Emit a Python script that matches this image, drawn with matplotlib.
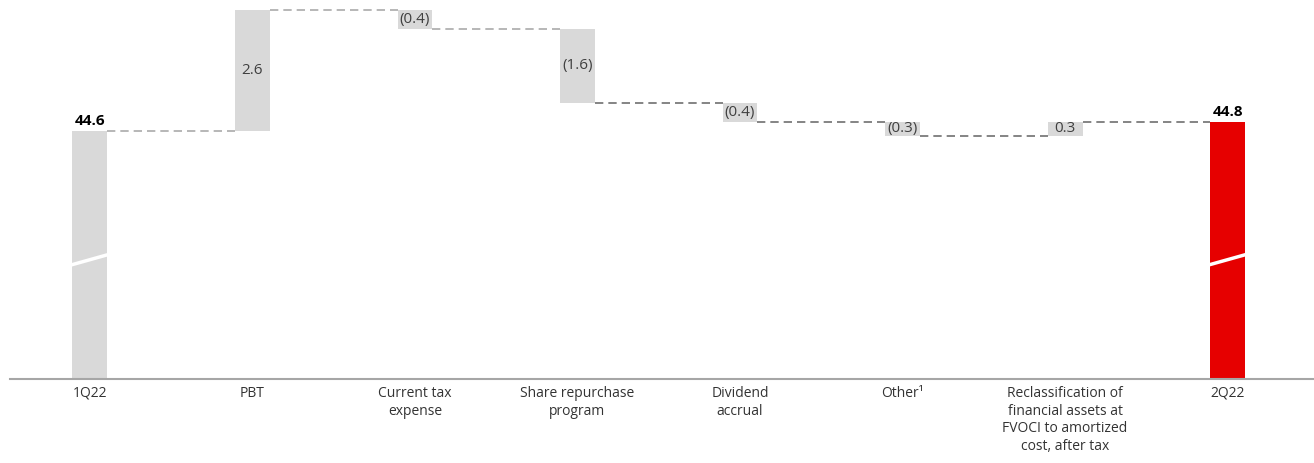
import numpy as np
import matplotlib
matplotlib.use("Agg")
import matplotlib.pyplot as plt

plt.rcParams['font.family'] = ['Open Sans', 'DejaVu Sans']

categories = ["1Q22", "PBT", "Current tax\nexpense", "Share repurchase\nprogram",
              "Dividend\naccrual", "Other\u00b9",
              "Reclassification of\nfinancial assets at\nFVOCI to amortized\ncost, after tax",
              "2Q22"]
start_value = 44.6
deltas = [2.6, -0.4, -1.6, -0.4, -0.3, 0.3]
end_value = 44.8
delta_labels = ["2.6", "(0.4)", "(1.6)", "(0.4)", "(0.3)", "0.3"]

y_min, y_max = 39.271, 47.415
bar_w = 0.215
grey = "#d9d9d9"
red = "#e60000"

fig = plt.figure(figsize=(13.14, 4.63), dpi=100)
ax = fig.add_axes([10 / 1314, (463 - 379) / 463, 1304 / 1314, 379 / 463])
ax.set_xlim(-0.492, 7.532)
ax.set_ylim(y_min, y_max)

x = np.arange(len(categories))

# start / end totals
ax.bar(x[0], start_value - y_min, bottom=y_min, width=bar_w, color=grey, zorder=2)
ax.bar(x[-1], end_value - y_min, bottom=y_min, width=bar_w, color=red, zorder=2)
ax.text(x[0], start_value + 0.06, "44.6", ha="center", va="bottom", fontsize=11,
        fontweight="bold", color="black")
ax.text(x[-1], end_value + 0.06, "44.8", ha="center", va="bottom", fontsize=11,
        fontweight="bold", color="black")

# axis break marks
for xi in (x[0], x[-1]):
    ax.plot([xi - bar_w / 2 - 0.01, xi + bar_w / 2 + 0.01], [41.72, 41.95],
            color="white", lw=2.5, zorder=3, solid_capstyle="butt")

# steps
level = start_value
levels = [level]
for i, d in enumerate(deltas):
    lo, hi = sorted([level, level + d])
    ax.bar(x[i + 1], hi - lo, bottom=lo, width=bar_w, color=grey, zorder=2)
    ax.text(x[i + 1], (lo + hi) / 2, delta_labels[i], ha="center", va="center",
            fontsize=11, color="#404040", zorder=4)
    level += d
    levels.append(level)

# connectors
for i in range(len(categories) - 1):
    lvl = levels[i]
    col = "#aaaaaa" if i < 3 else "#707070"
    ax.plot([x[i] + bar_w / 2, x[i + 1] - bar_w / 2], [lvl, lvl], color=col,
            lw=1.2, dashes=(5, 3), zorder=1)

ax.set_xticks(x)
ax.set_xticklabels(categories, fontsize=10, color="#333333", linespacing=1.25)
ax.tick_params(axis="x", length=0, pad=5)
ax.set_yticks([])
for s in ["top", "right", "left"]:
    ax.spines[s].set_visible(False)
ax.spines["bottom"].set_color("#a6a6a6")
ax.spines["bottom"].set_linewidth(1.5)

fig.savefig("out.png", dpi=100)
